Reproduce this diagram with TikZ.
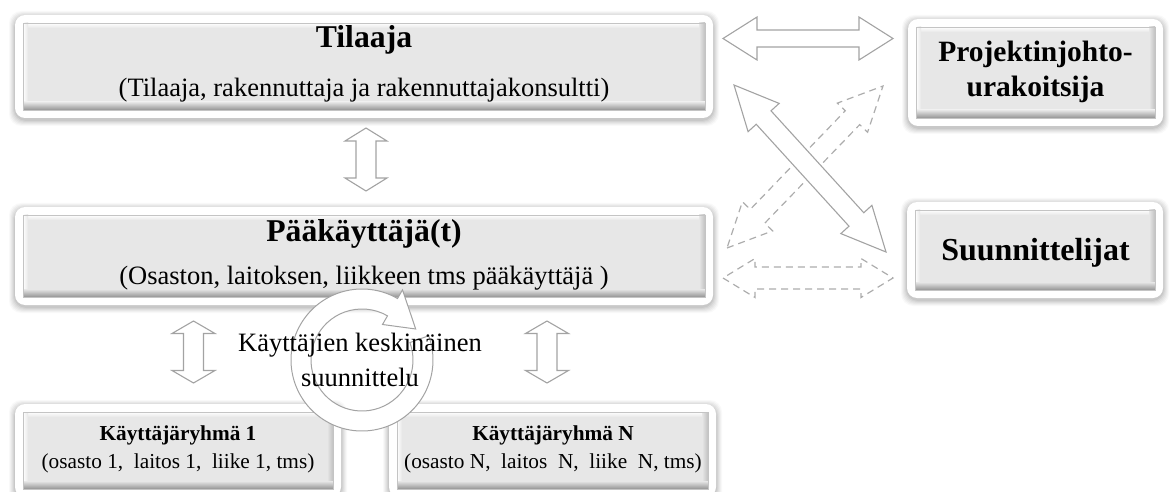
\documentclass[tikz,border=0pt]{standalone}
\usepackage{fontspec}
\setmainfont{Liberation Serif}
\usetikzlibrary{calc,fit}

\definecolor{facegray}{HTML}{E7E7E7}
\definecolor{bevelgray}{HTML}{949494}
\definecolor{sidegray}{HTML}{C0C0C0}
\definecolor{edgegray}{HTML}{C4C4C4}
\definecolor{arrowgray}{HTML}{A3A3A3}
\definecolor{dashgray}{HTML}{ACACAC}

\newcommand{\titlesize}{\fontsize{31.7}{36}\selectfont\bfseries}
\newcommand{\subsize}{\fontsize{26.5}{30}\selectfont}
\newcommand{\smalltitle}{\fontsize{21.3}{25}\selectfont\bfseries}
\newcommand{\smallsub}{\fontsize{21.3}{25}\selectfont}

\tikzset{
  blockarrow/.style={draw=arrowgray, line width=1.1pt, fill=white, line join=miter},
  dashedarrow/.style={draw=dashgray, line width=1.2pt, dash pattern=on 7pt off 5pt, line join=miter},
  label/.style={anchor=base, inner sep=0pt, text=black},
}

% A raised panel: white rounded frame with a soft shadow, and a bevelled grey face.
% #1 name, (#2,#3) top left corner of the face, (#4,#5) bottom right corner of the face
\newcommand{\panel}[5]{%
  \foreach \s/\o in {6/0.025,5/0.03,4/0.035,3/0.04,2/0.05,1/0.06}{
    \fill[black, opacity=\o, rounded corners=12pt]
      (#2-8-\s, #3-8-\s+2) rectangle (#4+8+\s, #5+8+\s+2);
  }
  \fill[white, rounded corners=10pt] (#2-8, #3-8) rectangle (#4+8, #5+8);
  \fill[facegray] (#2, #3) rectangle (#4, #5);
  \begin{scope}
    \clip (#2, #3) rectangle (#4, #5);
    \shade[top color=white, bottom color=facegray] (#2, #3) rectangle (#4, #3+5);
    \shade[left color=white, right color=facegray] (#2, #3) rectangle (#2+5, #5);
    \shade[left color=facegray, right color=sidegray] (#4-6, #3) rectangle (#4, #5);
    \shade[top color=facegray, bottom color=bevelgray] (#2, #5-8) rectangle (#4, #5);
  \end{scope}
  \draw[edgegray, line width=0.6pt] (#2, #3) rectangle (#4, #5);
  \path (#2, #3) coordinate (#1-nw) (#4, #5) coordinate (#1-se);
  \node[inner sep=0pt, fit=(#1-nw)(#1-se)] (#1) {};
}

% A double-headed block arrow from #2 to #3.
% #1 style, #4 half width of the shaft, #5 half width of the heads, #6 length of the heads
\newcommand{\dblarrow}[6]{%
  \coordinate (da-a) at ($(#2)!#6pt!(#3)$);
  \coordinate (da-b) at ($(#3)!#6pt!(#2)$);
  \draw[#1] (#2)
    -- ($(da-a)!#5pt!-90:(#3)$) -- ($(da-a)!#4pt!-90:(#3)$)
    -- ($(da-b)!#4pt!90:(#2)$) -- ($(da-b)!#5pt!90:(#2)$)
    -- (#3)
    -- ($(da-b)!#5pt!-90:(#2)$) -- ($(da-b)!#4pt!-90:(#2)$)
    -- ($(da-a)!#4pt!90:(#3)$) -- ($(da-a)!#5pt!90:(#3)$)
    -- cycle;
}

\begin{document}
\begin{tikzpicture}[x=1pt, y=-1pt]
  \useasboundingbox (0,0) rectangle (1171,492);

  % panels
  \panel{tilaaja}{23}{23}{705}{110}
  \panel{paak}{23}{215}{705}{297}
  \panel{pju}{916}{27}{1155}{118}
  \panel{suun}{915}{210}{1155}{290}
  \panel{ryhma1}{23}{412}{333}{489}
  \panel{ryhmaN}{397}{412}{708}{489}

  % end points of the links between the panels
  \coordinate (t-pju-a) at (723,38.5);
  \coordinate (t-pju-b) at (893,38.5);
  \coordinate (t-suun-a) at (734,85);
  \coordinate (t-suun-b) at (886,252);
  \coordinate (p-pju-a) at (727,248);
  \coordinate (p-pju-b) at (883,86);
  \coordinate (p-suun-a) at (723,278);
  \coordinate (p-suun-b) at (893,278);
  \coordinate (t-p-a) at (366,128);
  \coordinate (t-p-b) at (366,191);
  \coordinate (p-r1-a) at (193.5,321);
  \coordinate (p-r1-b) at (193.5,383);
  \coordinate (p-rN-a) at (547,321);
  \coordinate (p-rN-b) at (547,383);

  % dashed links from the main users
  \dblarrow{dashedarrow}{p-pju-a}{p-pju-b}{10}{21}{44}
  \dblarrow{dashedarrow}{p-suun-a}{p-suun-b}{11}{19.5}{32}

  % solid links
  \dblarrow{blockarrow}{t-pju-a}{t-pju-b}{8.5}{21.5}{34}
  \dblarrow{blockarrow}{t-suun-a}{t-suun-b}{10}{21}{44}
  \dblarrow{blockarrow}{t-p-a}{t-p-b}{10}{21}{13}
  \dblarrow{blockarrow}{p-r1-a}{p-r1-b}{10}{21.5}{12.5}
  \dblarrow{blockarrow}{p-rN-a}{p-rN-b}{10}{21.5}{12.5}

  % circular arrow for the joint planning of the user groups
  \coordinate (ring) at (362,360);
  \filldraw[blockarrow, line width=1pt]
    ($(ring)+(-60:71)$) arc[start angle=-60, end angle=-380, radius=71]
    -- ($(ring)+(-380:51)$) arc[start angle=-380, end angle=-60, radius=51]
    -- ($(ring)+(-60:41)$) -- ($(ring)+(-30:62)$) -- ($(ring)+(-60:81)$) -- cycle;

  % texts
  \node[label] (tilaaja-title) at (364,48) {\titlesize Tilaaja};
  \node[label] (tilaaja-sub) at (364,97) {\subsize (Tilaaja, rakennuttaja ja rakennuttajakonsultti)};
  \node[label] (paak-title) at (364,241) {\titlesize Pääkäyttäjä(t)};
  \node[label] (paak-sub) at (364,284) {\subsize (Osaston, laitoksen, liikkeen tms pääkäyttäjä )};
  \node[label] (pju-l1) at (1035.5,62) {\fontsize{29.5}{34}\selectfont\bfseries Projektinjohto-};
  \node[label] (pju-l2) at (1035.5,97) {\fontsize{29.5}{34}\selectfont\bfseries urakoitsija};
  \node[label] (suun-title) at (1035.5,260) {\fontsize{32}{36}\selectfont\bfseries Suunnittelijat};
  \node[label] (ring-l1) at (360,351) {\subsize Käyttäjien keskinäinen};
  \node[label] (ring-l2) at (360,386) {\subsize suunnittelu};
  \node[label] (r1-title) at (178,440) {\smalltitle Käyttäjäryhmä 1};
  \node[label] (r1-sub) at (178,468) {\smallsub (osasto 1,\ \ laitos 1,\ \ liike 1, tms)};
  \node[label] (rN-title) at (553,440) {\smalltitle Käyttäjäryhmä N};
  \node[label] (rN-sub) at (553,468) {\smallsub (osasto N,\ \ laitos\ \ N,\ \ liike\ \ N, tms)};
\end{tikzpicture}
\end{document}
